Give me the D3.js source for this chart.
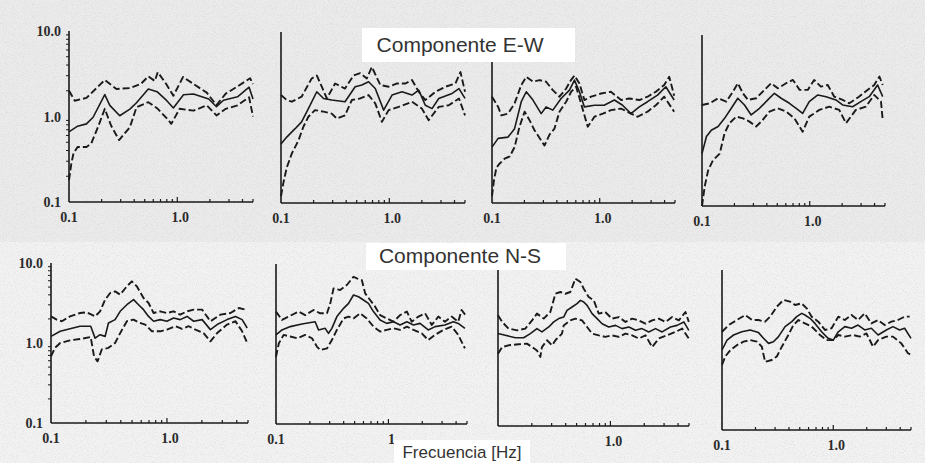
<!DOCTYPE html>
<html>
<head>
<meta charset="utf-8">
<script src="https://cdn.jsdelivr.net/npm/d3@7"></script>
<style>
  body { margin: 0; background: #fff; }
  svg { display: block; }
</style>
</head>
<body>
<svg id="chart" width="925" height="463"></svg>
<script>
// ---- values: [frequency Hz, ratio] ----
// Componente E-W
const ew1Mean  = [[0.1,0.66],[0.12,0.77],[0.145,0.82],[0.167,0.98],[0.214,1.8],[0.238,1.35],[0.294,1.02],[0.365,1.22],[0.42,1.45],[0.54,2.1],[0.65,1.95],[0.8,1.53],[0.92,1.26],[1.14,1.8],[1.41,1.83],[1.95,1.6],[2.3,1.3],[2.67,1.55],[3.6,1.7],[4.6,2.2],[5.0,1.6]];
const ew1Upper = [[0.1,2.0],[0.113,1.53],[0.145,1.65],[0.214,2.67],[0.274,2.1],[0.365,2.15],[0.46,2.4],[0.54,2.95],[0.62,2.6],[0.66,3.3],[0.79,2.4],[0.92,1.75],[1.13,2.9],[1.41,2.4],[1.87,1.9],[2.3,1.36],[2.8,1.85],[3.5,2.2],[4.7,2.8],[5.0,2.4]];
const ew1Lower = [[0.1,0.18],[0.105,0.28],[0.11,0.37],[0.12,0.44],[0.145,0.44],[0.16,0.48],[0.185,0.75],[0.214,1.23],[0.245,0.78],[0.29,0.53],[0.365,0.75],[0.42,1.28],[0.54,1.47],[0.66,1.23],[0.82,0.92],[0.88,0.82],[1.05,1.23],[1.41,1.17],[1.87,1.35],[2.3,1.03],[2.8,1.23],[3.6,1.35],[4.6,1.68],[5.0,1.0]];

const ew2Mean  = [[0.1,0.49],[0.113,0.59],[0.135,0.74],[0.155,0.89],[0.179,1.27],[0.214,2.0],[0.247,1.67],[0.294,1.6],[0.39,1.53],[0.484,2.29],[0.558,2.4],[0.644,2.62],[0.742,2.18],[0.887,1.22],[1.06,1.83],[1.31,2.0],[1.62,1.83],[1.87,2.09],[2.15,1.39],[2.48,1.27],[2.86,1.67],[3.8,1.91],[4.4,2.18],[5.0,1.67]];
const ew2Upper = [[0.1,1.83],[0.113,1.6],[0.126,1.53],[0.155,1.75],[0.192,2.86],[0.214,3.1],[0.238,2.29],[0.265,1.67],[0.316,2.5],[0.39,2.18],[0.467,3.1],[0.539,3.3],[0.62,2.86],[0.69,3.9],[0.826,2.4],[0.986,2.29],[1.18,2.5],[1.41,2.5],[1.62,2.74],[1.87,2.0],[2.15,1.6],[2.67,2.0],[3.3,2.29],[4.08,2.5],[4.54,3.4],[5.0,2.0]];
const ew2Lower = [[0.1,0.12],[0.105,0.17],[0.113,0.26],[0.126,0.38],[0.145,0.54],[0.161,0.78],[0.179,1.02],[0.206,1.22],[0.247,1.17],[0.294,1.11],[0.328,0.97],[0.39,1.06],[0.451,1.6],[0.539,1.67],[0.644,1.83],[0.742,1.46],[0.855,0.89],[0.986,1.22],[1.22,1.33],[1.62,1.53],[2.0,1.27],[2.31,0.93],[2.86,1.33],[3.54,1.39],[4.4,1.67],[5.0,1.06]];

const ew3Mean  = [[0.1,0.45],[0.114,0.57],[0.141,0.59],[0.162,0.74],[0.187,1.53],[0.208,2.0],[0.24,1.6],[0.286,1.11],[0.318,1.33],[0.367,1.22],[0.438,1.67],[0.524,2.09],[0.583,2.74],[0.648,2.0],[0.721,1.33],[0.893,1.39],[1.1,1.39],[1.37,1.6],[1.63,1.39],[1.95,1.11],[2.33,1.33],[2.78,1.53],[3.44,1.83],[4.11,2.29],[4.91,1.6]];
const ew3Upper = [[0.1,1.75],[0.114,1.33],[0.122,1.06],[0.141,1.11],[0.162,1.46],[0.187,2.4],[0.208,3.0],[0.24,2.62],[0.276,2.74],[0.318,2.62],[0.367,2.09],[0.423,1.75],[0.488,2.18],[0.543,2.76],[0.583,3.1],[0.648,2.5],[0.721,1.6],[0.832,1.75],[1.03,1.91],[1.27,2.0],[1.58,1.6],[1.88,1.67],[2.33,1.6],[2.78,1.75],[3.32,2.0],[3.97,2.4],[4.42,3.0],[4.91,1.8]];
const ew3Lower = [[0.1,0.12],[0.104,0.18],[0.11,0.26],[0.118,0.29],[0.131,0.33],[0.146,0.35],[0.162,0.45],[0.18,0.78],[0.201,1.17],[0.223,0.93],[0.248,0.71],[0.286,0.54],[0.307,0.47],[0.342,0.63],[0.38,0.74],[0.423,1.17],[0.488,1.53],[0.543,2.0],[0.604,2.29],[0.671,1.46],[0.774,0.78],[0.893,1.02],[1.07,1.11],[1.27,1.22],[1.58,1.27],[1.95,1.11],[2.25,1.02],[2.78,1.17],[3.32,1.39],[3.97,1.75],[4.91,1.17]];

const ew4Mean  = [[0.1,0.41],[0.11,0.65],[0.122,0.77],[0.141,0.85],[0.162,1.06],[0.187,1.39],[0.215,1.82],[0.248,1.52],[0.286,1.16],[0.342,1.39],[0.408,1.74],[0.47,2.08],[0.543,1.82],[0.648,1.59],[0.749,1.39],[0.86,1.21],[0.99,1.66],[1.19,1.99],[1.42,1.9],[1.75,1.74],[2.02,1.52],[2.5,1.45],[2.98,1.66],[3.57,1.9],[4.27,2.6],[4.76,1.9]];
const ew4Upper = [[0.1,1.52],[0.118,1.59],[0.141,1.82],[0.168,1.66],[0.194,2.18],[0.215,2.73],[0.24,2.08],[0.267,1.74],[0.318,1.82],[0.38,2.28],[0.438,2.73],[0.506,2.38],[0.604,2.73],[0.698,2.98],[0.806,2.28],[0.96,2.28],[1.1,2.98],[1.27,2.49],[1.47,2.6],[1.69,1.9],[2.02,1.74],[2.33,1.59],[2.87,1.9],[3.44,2.28],[3.97,2.6],[4.44,3.26],[4.76,2.6]];
const ew4Lower = [[0.1,0.1],[0.106,0.17],[0.114,0.26],[0.126,0.34],[0.146,0.41],[0.162,0.71],[0.18,0.93],[0.208,1.11],[0.24,1.06],[0.276,0.97],[0.318,0.85],[0.355,0.97],[0.423,1.27],[0.506,1.39],[0.604,1.27],[0.721,1.06],[0.86,0.74],[0.99,1.11],[1.23,1.33],[1.52,1.45],[1.88,1.33],[2.17,0.93],[2.68,1.33],[3.32,1.45],[3.97,1.99],[4.59,1.66],[4.76,1.01]];

// Componente N-S
const ns1Mean  = [[0.1,1.21],[0.12,1.4],[0.146,1.51],[0.178,1.62],[0.22,1.62],[0.24,1.15],[0.265,1.27],[0.293,1.21],[0.313,1.78],[0.357,1.96],[0.395,2.49],[0.451,3.01],[0.515,3.48],[0.569,3.01],[0.628,2.61],[0.694,2.15],[0.767,1.87],[0.875,1.96],[1.0,1.87],[1.14,2.05],[1.3,1.96],[1.49,2.15],[1.7,1.87],[2.01,1.96],[2.37,1.47],[2.71,1.7],[3.3,1.96],[3.9,2.15],[4.45,1.96],[4.92,1.54]];
const ns1Upper = [[0.1,2.15],[0.112,1.96],[0.124,1.87],[0.146,2.15],[0.178,2.37],[0.203,2.42],[0.24,2.15],[0.265,2.49],[0.293,3.48],[0.324,4.22],[0.357,4.42],[0.395,4.02],[0.451,5.11],[0.498,5.9],[0.55,5.11],[0.628,3.65],[0.694,3.16],[0.767,2.37],[0.875,2.49],[1.0,2.37],[1.14,2.49],[1.3,2.26],[1.49,2.49],[1.7,2.61],[2.01,2.61],[2.37,1.87],[2.89,2.26],[3.53,2.37],[4.17,2.74],[4.76,2.61]];
const ns1Lower = [[0.1,0.68],[0.108,0.87],[0.12,1.0],[0.146,1.08],[0.178,1.12],[0.22,1.19],[0.235,0.68],[0.252,0.59],[0.274,0.83],[0.313,0.87],[0.357,1.0],[0.395,1.33],[0.451,1.87],[0.515,1.96],[0.569,1.81],[0.65,1.7],[0.742,1.4],[0.875,1.4],[1.0,1.47],[1.18,1.62],[1.35,1.5],[1.54,1.62],[1.76,1.47],[2.07,1.33],[2.37,1.05],[2.71,1.33],[3.3,1.7],[3.9,1.87],[4.45,1.4],[4.92,1.0]];

const ns2Mean  = [[0.1,1.3],[0.113,1.5],[0.134,1.65],[0.17,1.78],[0.223,1.9],[0.239,1.5],[0.274,1.57],[0.293,1.36],[0.314,1.57],[0.348,2.2],[0.399,2.79],[0.442,3.22],[0.489,4.1],[0.542,3.9],[0.6,3.55],[0.664,3.22],[0.736,2.54],[0.843,2.0],[0.966,1.81],[1.11,1.9],[1.27,1.73],[1.46,1.9],[1.67,1.73],[1.91,1.81],[2.26,1.5],[2.6,1.65],[3.18,1.73],[3.78,1.9],[4.18,1.81],[4.79,1.57]];
const ns2Upper = [[0.1,2.54],[0.113,2.0],[0.129,2.2],[0.159,2.54],[0.182,2.3],[0.216,2.66],[0.247,2.42],[0.284,2.42],[0.304,3.22],[0.325,4.96],[0.372,4.73],[0.427,5.46],[0.489,6.93],[0.524,6.61],[0.58,6.3],[0.621,4.3],[0.687,3.55],[0.762,2.93],[0.843,2.3],[0.966,2.09],[1.11,1.9],[1.27,2.3],[1.46,2.54],[1.61,1.9],[1.85,2.2],[2.12,2.42],[2.43,1.73],[2.78,2.2],[3.18,1.9],[3.65,2.2],[4.18,1.9],[4.48,2.66],[4.96,2.2]];
const ns2Lower = [[0.1,0.69],[0.106,1.02],[0.117,1.3],[0.134,1.24],[0.154,1.18],[0.182,1.3],[0.209,1.18],[0.231,0.93],[0.247,0.84],[0.284,0.88],[0.314,1.12],[0.348,1.5],[0.399,2.09],[0.442,2.2],[0.489,2.09],[0.561,2.42],[0.642,2.09],[0.736,1.65],[0.843,1.43],[0.966,1.5],[1.11,1.57],[1.27,1.5],[1.46,1.65],[1.67,1.5],[1.98,1.36],[2.26,1.12],[2.6,1.3],[3.08,1.5],[3.65,1.65],[4.18,1.3],[4.79,0.88]];

const ns3Mean  = [[0.1,1.43],[0.116,1.36],[0.143,1.27],[0.169,1.27],[0.194,1.43],[0.222,1.65],[0.246,1.5],[0.283,1.73],[0.313,2.0],[0.347,2.2],[0.384,2.3],[0.411,2.79],[0.456,3.07],[0.505,3.38],[0.541,3.72],[0.579,3.55],[0.62,3.22],[0.687,2.54],[0.761,2.2],[0.843,1.9],[0.966,1.73],[1.11,1.81],[1.27,1.65],[1.46,1.73],[1.67,1.57],[1.91,1.65],[2.19,1.5],[2.52,1.65],[2.88,1.5],[3.42,1.73],[3.92,1.81],[4.5,2.0],[4.98,1.57]];
const ns3Upper = [[0.1,2.42],[0.109,2.0],[0.124,1.65],[0.148,1.57],[0.175,1.65],[0.201,2.09],[0.222,2.54],[0.255,2.2],[0.292,2.66],[0.324,4.5],[0.359,4.73],[0.397,4.5],[0.44,4.73],[0.488,6.93],[0.541,6.3],[0.579,5.2],[0.641,4.1],[0.711,3.72],[0.787,2.54],[0.9,2.66],[1.03,2.2],[1.19,2.3],[1.36,2.0],[1.56,2.2],[1.79,2.09],[2.05,1.9],[2.35,2.09],[2.69,2.2],[3.09,2.0],[3.54,2.3],[4.06,2.09],[4.65,2.66],[4.98,2.0]];
const ns3Lower = [[0.1,0.8],[0.109,0.97],[0.124,1.02],[0.153,1.05],[0.181,1.07],[0.201,0.97],[0.222,0.88],[0.238,0.73],[0.246,0.97],[0.273,1.18],[0.303,1.02],[0.324,1.18],[0.371,1.43],[0.384,1.81],[0.44,2.09],[0.488,2.2],[0.559,2.09],[0.62,1.73],[0.687,1.43],[0.787,1.36],[0.9,1.3],[1.03,1.36],[1.19,1.3],[1.36,1.43],[1.56,1.36],[1.79,1.24],[2.05,1.36],[2.35,0.97],[2.69,1.24],[3.19,1.36],[3.79,1.5],[4.35,1.65],[4.98,1.24]];

const ns4Mean  = [[0.1,1.0],[0.111,1.33],[0.127,1.54],[0.151,1.69],[0.179,1.78],[0.213,1.65],[0.236,1.4],[0.262,1.21],[0.29,1.27],[0.322,1.47],[0.369,1.96],[0.424,2.26],[0.469,2.61],[0.52,2.87],[0.557,2.74],[0.618,2.49],[0.685,2.15],[0.786,1.69],[0.9,1.4],[1.0,1.33],[1.11,1.69],[1.27,1.96],[1.46,1.87],[1.67,2.05],[1.92,1.78],[2.2,1.87],[2.53,1.54],[3.0,1.78],[3.44,1.96],[3.95,1.78],[4.38,1.87],[5.0,1.4]];
const ns4Upper = [[0.1,1.69],[0.115,2.05],[0.136,2.37],[0.162,2.74],[0.186,2.37],[0.213,2.37],[0.244,2.26],[0.271,2.61],[0.311,3.48],[0.357,4.22],[0.409,4.02],[0.454,3.65],[0.52,3.83],[0.577,3.32],[0.64,2.61],[0.734,2.26],[0.842,1.78],[0.966,1.87],[1.11,2.61],[1.27,2.37],[1.46,2.74],[1.67,2.37],[1.92,2.87],[2.2,2.15],[2.53,2.37],[2.9,2.05],[3.33,2.26],[3.82,2.37],[4.38,2.61],[4.86,2.61]];
const ns4Lower = [[0.1,0.65],[0.107,0.83],[0.119,1.0],[0.136,1.15],[0.156,1.27],[0.179,1.33],[0.206,1.27],[0.228,1.1],[0.244,0.71],[0.28,0.75],[0.311,0.83],[0.345,1.1],[0.395,1.54],[0.438,2.05],[0.486,2.37],[0.557,2.15],[0.64,1.96],[0.76,1.54],[0.871,1.33],[1.0,1.33],[1.11,1.54],[1.27,1.47],[1.51,1.54],[1.73,1.47],[1.99,1.61],[2.28,1.1],[2.53,1.33],[3.0,1.47],[3.44,1.47],[4.09,1.21],[4.7,0.91],[5.0,0.87]];

// axes
const freqDomain = [0.1, 5];
const ratioDomain = [0.1, 10];
const yTickValues = [0.1, 1, 10];
const yTickLabels = ["0.1", "1.0", "10.0"];
const xTickValues = [0.1, 1];
const xTickLabelsStd = ["0.1", "1.0"];
const xTickLabelsAlt = ["0.1", "1"];
const xTickLabelsRight = ["", "1.0"];
const minorFreqs = [0.2, 0.3, 0.4, 0.5, 0.6, 0.7, 0.8, 0.9, 2, 3, 4, 5];
const minorRatios = [0.2, 0.3, 0.4, 0.5, 0.6, 0.7, 0.8, 0.9, 2, 3, 4, 5, 6, 7, 8, 9];

const titleEW = "Componente E-W";
const titleNS = "Componente N-S";
const xTitle = "Frecuencia [Hz]";

// panel placement on the page
const panels = [
  { x0: 69,  x1: 253, yTop: 31,  yBot: 202, series: [ew1Mean, ew1Upper, ew1Lower], xl: xTickLabelsStd, yl: true },
  { x0: 281, x1: 465, yTop: 32,  yBot: 203, series: [ew2Mean, ew2Upper, ew2Lower], xl: xTickLabelsStd, yl: false },
  { x0: 492, x1: 675, yTop: 32,  yBot: 203, series: [ew3Mean, ew3Upper, ew3Lower], xl: xTickLabelsStd, yl: false },
  { x0: 702, x1: 885, yTop: 35,  yBot: 206, series: [ew4Mean, ew4Upper, ew4Lower], xl: xTickLabelsStd, yl: false },
  { x0: 51,  x1: 248, yTop: 263, yBot: 423, series: [ns1Mean, ns1Upper, ns1Lower], xl: xTickLabelsStd, yl: true },
  { x0: 276, x1: 467, yTop: 264, yBot: 424, series: [ns2Mean, ns2Upper, ns2Lower], xl: xTickLabelsAlt, yl: false },
  { x0: 498, x1: 689, yTop: 266, yBot: 426, series: [ns3Mean, ns3Upper, ns3Lower], xl: xTickLabelsRight, yl: false },
  { x0: 722, x1: 911, yTop: 270, yBot: 430, series: [ns4Mean, ns4Upper, ns4Lower], xl: xTickLabelsStd, yl: false }
];

const svg = d3.select("#chart");

// scanned paper background
const defs = svg.append("defs");
const grain = defs.append("filter").attr("id", "grain")
  .attr("x", 0).attr("y", 0).attr("width", "100%").attr("height", "100%");
grain.append("feTurbulence").attr("type", "fractalNoise")
  .attr("baseFrequency", 0.9).attr("numOctaves", 2).attr("seed", 7);
grain.append("feColorMatrix").attr("type", "matrix")
  .attr("values", "0 0 0 0 0.35  0 0 0 0 0.35  0 0 0 0 0.35  1.8 0 0 0 -0.85");

svg.append("rect").attr("width", 925).attr("height", 242).attr("fill", "#ebebeb");
svg.append("rect").attr("y", 242).attr("width", 925).attr("height", 221).attr("fill", "#f2f2f2");
svg.append("rect").attr("width", 925).attr("height", 463)
  .attr("filter", "url(#grain)").attr("opacity", 0.3);

const ink = "#1a1a1a";

panels.forEach(function(p) {
  const x = d3.scaleLog().domain(freqDomain).range([p.x0, p.x1]);
  const y = d3.scaleLog().domain(ratioDomain).range([p.yBot, p.yTop]);
  const g = svg.append("g");

  // axis lines
  g.append("line").attr("x1", p.x0).attr("x2", p.x0).attr("y1", y(10)).attr("y2", y(0.1))
    .attr("stroke", ink).attr("stroke-width", 1.6);
  g.append("line").attr("x1", p.x0).attr("x2", x(5)).attr("y1", y(0.1)).attr("y2", y(0.1))
    .attr("stroke", ink).attr("stroke-width", 1.6);

  // x ticks, pointing up
  g.selectAll("line.xminor").data(minorFreqs).join("line")
    .attr("class", "xminor")
    .attr("x1", d => x(d)).attr("x2", d => x(d))
    .attr("y1", p.yBot).attr("y2", p.yBot - 3)
    .attr("stroke", ink).attr("stroke-width", 1.2);
  g.append("line").attr("x1", x(1)).attr("x2", x(1))
    .attr("y1", p.yBot).attr("y2", p.yBot - 5)
    .attr("stroke", ink).attr("stroke-width", 1.2);

  g.selectAll("text.xl").data(xTickValues).join("text")
    .attr("class", "xl")
    .attr("x", (d, i) => x(d) + (i === 1 ? 3 : 0))
    .attr("y", p.yBot + 20)
    .attr("text-anchor", "middle")
    .attr("font-family", "Liberation Serif, DejaVu Serif, serif")
    .attr("font-weight", "bold")
    .attr("font-size", 14)
    .attr("fill", "#2b2b2b")
    .text((d, i) => p.xl[i]);

  if (p.yl) {
    g.selectAll("line.yminor").data(minorRatios).join("line")
      .attr("class", "yminor")
      .attr("x1", p.x0).attr("x2", p.x0 - 3)
      .attr("y1", d => y(d)).attr("y2", d => y(d))
      .attr("stroke", ink).attr("stroke-width", 1);
    g.selectAll("text.yl").data(yTickValues).join("text")
      .attr("class", "yl")
      .attr("x", p.x0 - 8)
      .attr("y", d => y(d) + 5)
      .attr("text-anchor", "end")
      .attr("font-family", "Liberation Serif, DejaVu Serif, serif")
      .attr("font-weight", "bold")
      .attr("font-size", 14)
      .attr("fill", "#2b2b2b")
      .text((d, i) => yTickLabels[i]);
  }

  const line = d3.line().x(d => x(d[0])).y(d => y(d[1]));
  g.selectAll("path.curve").data(p.series).join("path")
    .attr("class", "curve")
    .attr("d", line)
    .attr("fill", "none")
    .attr("stroke", ink)
    .attr("stroke-width", (d, i) => i === 0 ? 1.6 : 1.9)
    .attr("stroke-linejoin", "round")
    .attr("stroke-dasharray", (d, i) => i === 0 ? null : "7,3");
});

// overlay titles on white boxes
function label(txt, cx, baseline, size, box) {
  svg.append("rect").attr("x", box[0]).attr("y", box[1])
    .attr("width", box[2]).attr("height", box[3]).attr("fill", "#ffffff");
  svg.append("text").attr("x", cx).attr("y", baseline)
    .attr("text-anchor", "middle")
    .attr("font-family", "Liberation Sans, Arial, sans-serif")
    .attr("font-size", size)
    .attr("fill", "#333")
    .text(txt);
}
label(titleEW, 460, 52, 21, [362, 28, 213, 34]);
label(titleNS, 460, 263, 21, [366, 243, 200, 27]);
label(xTitle, 462, 458, 17, [394, 440, 136, 23]);
</script>
</body>
</html>
